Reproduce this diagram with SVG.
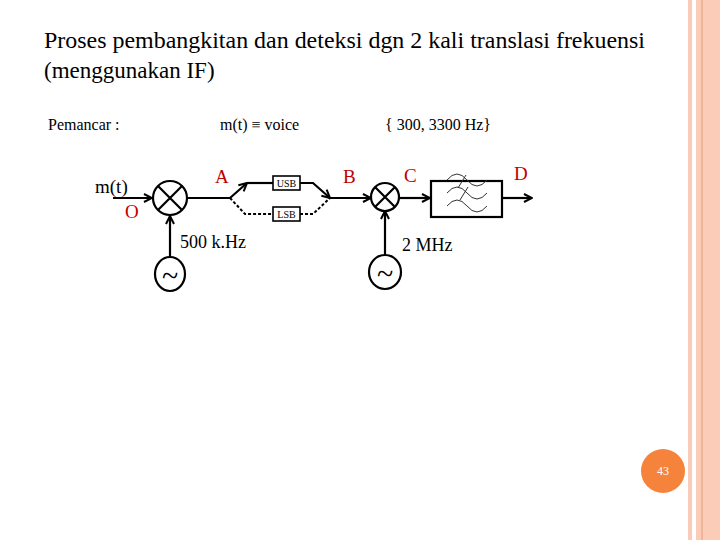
<svg xmlns="http://www.w3.org/2000/svg" width="720" height="540" viewBox="0 0 720 540">
<style>
.s{stroke:#000;stroke-width:2.2;fill:none}
.d{stroke:#000;stroke-width:2;fill:none;stroke-dasharray:3,2}
.b{stroke:#000;stroke-width:1.6;fill:#fff}
</style>
<defs>
<marker id="a" markerWidth="10" markerHeight="10" refX="9" refY="5" orient="auto" markerUnits="userSpaceOnUse"><path d="M1,1 L9,5 L1,9" fill="none" stroke="#000" stroke-width="2"/></marker>
</defs>
<rect width="720" height="540" fill="#fff"/>
<rect x="688" y="0" width="4" height="540" fill="#f9cbb8"/>
<rect x="696" y="0" width="24" height="540" fill="#fbcdb9"/>
<rect x="701" y="0" width="2" height="540" fill="#f2b59c"/>
<g font-family="Liberation Serif, Times New Roman, serif" fill="#000">
<text x="44" y="48" font-size="23" textLength="601" lengthAdjust="spacingAndGlyphs">Proses pembangkitan dan deteksi dgn 2 kali translasi frekuensi</text>
<text x="44" y="78" font-size="23">(menggunakan IF)</text>
<text x="48" y="130" font-size="16">Pemancar :</text>
<text x="220" y="130" font-size="16">m(t) ≡ voice</text>
<text x="385" y="130" font-size="16">{ 300, 3300 Hz}</text>
</g>
<g id="connectors">
<line class="s" x1="113" y1="198" x2="152" y2="198" marker-end="url(#a)"/>
<line class="s" x1="170" y1="258" x2="170" y2="216" marker-end="url(#a)"/>
<polyline class="s" points="188,198 230,198 247,183" marker-end="url(#a)"/>
<polyline class="s" points="247,183 273,183"/>
<polyline class="s" points="300,183 313,183 330,198" marker-end="url(#a)"/>
<polyline class="d" points="230,198 245,214 273,214"/>
<polyline class="d" points="300,214 313,214 330,198"/>
<line class="s" x1="330" y1="198" x2="371" y2="198" marker-end="url(#a)"/>
<line class="s" x1="385" y1="256" x2="385" y2="211" marker-end="url(#a)"/>
<line class="s" x1="399" y1="198" x2="430" y2="198" marker-end="url(#a)"/>
<line class="s" x1="502" y1="198" x2="532" y2="198" marker-end="url(#a)"/>
</g>
<g font-family="Liberation Serif, Times New Roman, serif">
<g id="mixer1"><circle class="s" cx="170" cy="198" r="17"/><path class="s" d="M158,186 L182,210 M182,186 L158,210"/></g>
<g id="osc1"><ellipse class="s" cx="170" cy="274" rx="15" ry="17"/><text x="170" y="286" font-size="30" text-anchor="middle">~</text></g>
<g id="usb"><rect class="b" x="273" y="176" width="27" height="14"/><text x="286.5" y="187" font-size="10" text-anchor="middle">USB</text></g>
<g id="lsb"><rect class="b" x="273" y="207" width="27" height="14"/><text x="286.5" y="218" font-size="10" text-anchor="middle">LSB</text></g>
<g id="mixer2"><circle class="s" cx="385" cy="197" r="14"/><path class="s" d="M375,187 L395,207 M395,187 L375,207"/></g>
<g id="osc2"><ellipse class="s" cx="385" cy="272" rx="16" ry="17"/><text x="385" y="284" font-size="30" text-anchor="middle">~</text></g>
<g id="filter"><rect class="s" x="431" y="181" width="71" height="36"/>
<path d="M447,180 q10,-12 20,0 q10,12 20,0 M447,193 q10,-12 20,0 q10,12 20,0 M447,206 q10,-12 20,0 q10,12 20,0" fill="none" stroke="#333" stroke-width="1"/>
<path d="M458,188 l8,-13 M460,200 l8,-13" stroke="#333" stroke-width="1"/></g>
<text x="95" y="193" font-size="19">m(t)</text>
<text x="125" y="218" font-size="19" fill="#c00000">O</text>
<text x="215" y="183" font-size="19" fill="#c00000">A</text>
<text x="343" y="183" font-size="19" fill="#c00000">B</text>
<text x="404" y="182" font-size="19" fill="#c00000">C</text>
<text x="514" y="180" font-size="19" fill="#c00000">D</text>
<text x="180" y="248" font-size="18">500 k.Hz</text>
<text x="402" y="251" font-size="18">2 MHz</text>
</g>
<g id="page"><circle cx="663" cy="471" r="22" fill="#f5833b"/><text x="663" y="475" font-family="Liberation Serif, serif" font-size="12" fill="#fff" text-anchor="middle">43</text></g>
</svg>
